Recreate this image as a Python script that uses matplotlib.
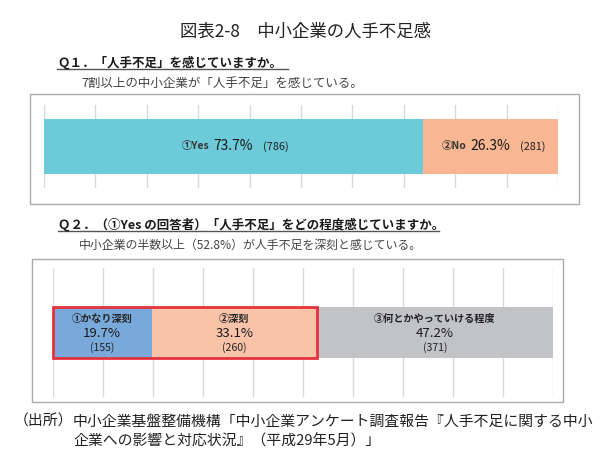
import matplotlib.pyplot as plt
from matplotlib.patches import Rectangle
from matplotlib.lines import Line2D

plt.rcParams['font.family'] = ['Noto Sans CJK JP', 'DejaVu Sans']

# データ
q1_names = ['①Yes', '②No']
q1_pct = [73.7, 26.3]
q1_counts = ['(786)', '(281)']
q1_colors = ['#6DCAD9', '#F8B692']

q2_names = ['①かなり深刻', '②深刻', '③何とかやっていける程度']
q2_pct = [19.7, 33.1, 47.2]
q2_counts = ['(155)', '(260)', '(371)']
q2_colors = ['#79A8DA', '#F9C3A9', '#C2C3C7']

W, H = 601, 457
fig = plt.figure(figsize=(W / 100, H / 100), dpi=100)


def fx(x):
    return x / W


def fy(y):
    return 1 - y / H


def box(x0, y0, x1, y1, color, lw=1.0):
    fig.patches.append(Rectangle((fx(x0), fy(y1)), fx(x1) - fx(x0), fy(y0) - fy(y1),
                                 transform=fig.transFigure, fill=False,
                                 edgecolor=color, linewidth=lw))


def make_ax(x0, y0, x1, y1):
    ax = fig.add_axes([fx(x0), fy(y1), fx(x1) - fx(x0), fy(y0) - fy(y1)])
    ax.set_xlim(0, 100)
    ax.set_ylim(-0.5, 0.5)
    ax.set_xticks(range(0, 101, 10))
    ax.set_yticks([])
    ax.tick_params(length=0, labelbottom=False)
    ax.grid(axis='x', color='#D9D9D9', linewidth=1)
    ax.set_axisbelow(True)
    for s in ax.spines.values():
        s.set_visible(False)
    return ax


# タイトル
fig.text(fx(306), fy(32), '図表2-8　中小企業の人手不足感', ha='center', va='center',
         fontsize=12.5, color='#222222')

# Q1
fig.text(fx(57), fy(63), 'Ｑ１．「人手不足」を感じていますか。', ha='left', va='center',
         fontsize=9, fontweight='bold', color='#1a1a1a')
fig.lines.append(Line2D([fx(57), fx(288)], [fy(69), fy(69)], transform=fig.transFigure,
                        color='#555555', linewidth=1))
fig.text(fx(81), fy(83), '7割以上の中小企業が「人手不足」を感じている。', ha='left', va='center',
         fontsize=9, color='#444444')
box(30, 94, 579, 204, '#ABABAB')

ax1 = make_ax(44, 105, 558, 188)
left = 0
for name, p, c, col in zip(q1_names, q1_pct, q1_counts, q1_colors):
    ax1.barh(0, p, left=left, height=0.663, color=col)
    cx = left + p / 2
    ax1.annotate(f'{p}%', (cx, 0), ha='center', va='center', fontsize=10,
                 color='#1a1a1a')
    ax1.annotate(name, (cx, 0), xytext=(-24, 0), textcoords='offset pixels',
                 ha='right', va='center', fontsize=7.5, fontweight='bold', color='#333333')
    ax1.annotate(c, (cx, 0), xytext=(30, 0), textcoords='offset pixels',
                 ha='left', va='center', fontsize=7.8, color='#222222')
    left += p

# Q2
fig.text(fx(58), fy(225), 'Ｑ２．（①Yes の回答者）「人手不足」をどの程度感じていますか。',
         ha='left', va='center', fontsize=9, fontweight='bold', color='#1a1a1a')
fig.lines.append(Line2D([fx(58), fx(439)], [fy(231), fy(231)], transform=fig.transFigure,
                        color='#555555', linewidth=1))
fig.text(fx(79), fy(245), '中小企業の半数以上（52.8%）が人手不足を深刻と感じている。',
         ha='left', va='center', fontsize=8.6, color='#444444')
box(32, 259, 563, 402, '#ABABAB')

ax2 = make_ax(53, 268, 553, 397)
left = 0
for name, p, c, col in zip(q2_names, q2_pct, q2_counts, q2_colors):
    ax2.barh(0, p, left=left, height=0.395, color=col)
    cx = left + p / 2
    ax2.annotate(name, (cx, 0), xytext=(0, 14), textcoords='offset pixels',
                 ha='center', va='center', fontsize=7.3, fontweight='bold', color='#222222')
    ax2.annotate(f'{p}%', (cx, 0), xytext=(0, -1), textcoords='offset pixels',
                 ha='center', va='center', fontsize=9.5, color='#1a1a1a')
    ax2.annotate(c, (cx, 0), xytext=(0, -15), textcoords='offset pixels',
                 ha='center', va='center', fontsize=7.6, color='#222222')
    left += p

# 深刻（①＋②）を赤枠で囲む
serious = q2_pct[0] + q2_pct[1]
ax2.add_patch(Rectangle((0, -0.1975), serious, 0.395, fill=False,
                        edgecolor='#E6323C', linewidth=2, zorder=5, clip_on=False))

# 出所
fig.text(fx(73), fy(422), '（出所）', ha='right', va='center', fontsize=10.7, color='#222222')
fig.text(fx(73), fy(422), '中小企業基盤整備機構「中小企業アンケート調査報告『人手不足に関する中小',
         ha='left', va='center', fontsize=10.7, color='#222222')
fig.text(fx(73), fy(441), '企業への影響と対応状況』（平成29年5月）」',
         ha='left', va='center', fontsize=10.7, color='#222222')

fig.savefig('out.png', dpi=100)
